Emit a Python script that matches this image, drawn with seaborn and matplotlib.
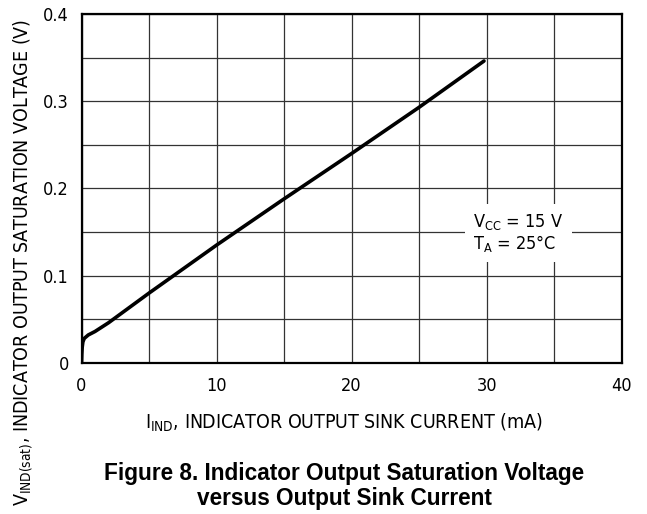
import numpy as np
import pandas as pd
import matplotlib
matplotlib.use("Agg")
import matplotlib.pyplot as plt
import seaborn as sns

# sink current (mA) vs saturation voltage (V)
sink_current = [0.0, 0.02, 0.05, 0.1, 0.2, 0.5, 1.0, 2.0, 5.0, 10.0, 15.0, 20.0, 25.0, 29.8]
sat_voltage = [0.0, 0.010, 0.018, 0.024, 0.028, 0.032, 0.036, 0.046, 0.080, 0.135, 0.188, 0.240, 0.293, 0.346]
x_ticks = [0, 10, 20, 30, 40]
y_ticks = [0, 0.1, 0.2, 0.3, 0.4]
y_tick_labels = ["0", "0.1", "0.2", "0.3", "0.4"]

sns.set_theme(style="white")
plt.rcParams["font.family"] = ["DejaVu Sans"]
plt.rcParams["font.stretch"] = "condensed"
plt.rcParams["text.color"] = "black"
plt.rcParams["mathtext.fontset"] = "custom"
plt.rcParams["mathtext.rm"] = "DejaVu Sans:stretch=condensed"
plt.rcParams["mathtext.it"] = "DejaVu Sans:stretch=condensed"

df = pd.DataFrame({"I": sink_current, "V": sat_voltage})

fig = plt.figure(figsize=(6.47, 5.14), dpi=100)
ax = fig.add_axes([0.126, 0.294, 0.835, 0.679])
sns.lineplot(data=df, x="I", y="V", ax=ax, color="black", linewidth=2.6, zorder=3)

ax.set_xlim(0, 40)
ax.set_ylim(0, 0.4)
ax.set_xticks(x_ticks)
ax.set_yticks(y_ticks)
ax.set_yticklabels(y_tick_labels)
ax.set_xticks(np.arange(0, 41, 5), minor=True)
ax.set_yticks(np.arange(0, 0.41, 0.05), minor=True)
ax.grid(which="both", color="0.2", linewidth=0.9)
ax.tick_params(which="both", length=0, labelsize=13, colors="black")
ax.tick_params(axis="x", pad=10)
ax.tick_params(axis="y", pad=9)
for s in ax.spines.values():
    s.set_color("black")
    s.set_linewidth(1.6)
ax.set_xlabel("")
ax.set_ylabel("")

ax.text(29.0, 0.149, "V$_{\\mathrm{CC}}$ = 15 V\nT$_{\\mathrm{A}}$ = 25°C", fontsize=13,
        va="center", ha="left", linespacing=1.05, zorder=4,
        bbox=dict(facecolor="white", edgecolor="none", pad=6))

fig.text(0.532, 1 - 423 / 514, "I$_{\\mathrm{IND}}$, INDICATOR OUTPUT SINK CURRENT (mA)",
         ha="center", va="center", fontsize=14)
fig.text(23 / 647, 1 - 262 / 514, "V$_{\\mathrm{IND(sat)}}$, INDICATOR OUTPUT SATURATION VOLTAGE (V)",
         ha="center", va="center", rotation=90, fontsize=14)
fig.text(0.532, 1 - 486 / 514, "Figure 8. Indicator Output Saturation Voltage\nversus Output Sink Current",
         ha="center", va="center", fontsize=16.3, fontweight="bold", fontstretch="normal",
         family=["Liberation Sans", "DejaVu Sans"], linespacing=1.15)

fig.savefig("out.png", dpi=100, facecolor="white")
